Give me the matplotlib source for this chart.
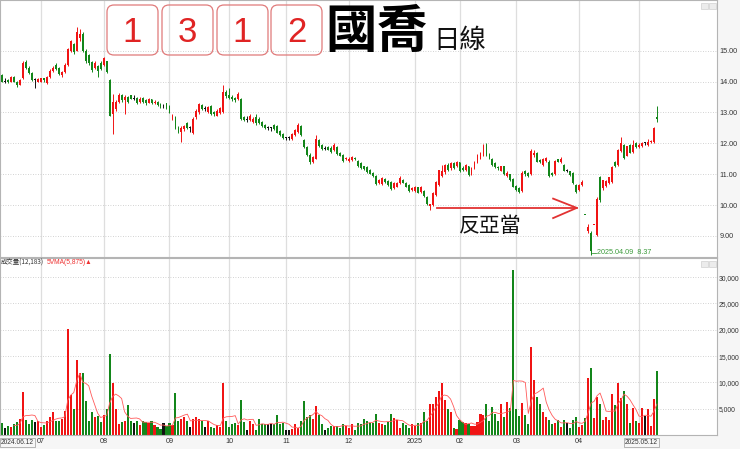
import numpy as np
import pandas as pd
import matplotlib
matplotlib.use('Agg')
import matplotlib.pyplot as plt
from matplotlib.patches import FancyBboxPatch, Rectangle

CJK = ['Noto Sans CJK TC', 'DejaVu Sans']
SANS = 'Liberation Sans'

# ---------------- data ----------------
holidays = ['2024-07-24', '2024-07-25', '2024-09-17', '2024-10-02', '2024-10-03',
            '2024-10-10', '2024-10-31', '2025-01-01', '2025-01-23', '2025-01-24',
            '2025-01-27', '2025-01-28', '2025-01-29', '2025-01-30', '2025-01-31',
            '2025-02-28', '2025-04-03', '2025-04-04', '2025-05-01']
dates = pd.bdate_range('2024-06-12', '2025-05-12', freq='C', holidays=holidays)

opens = [14.20, 14.00, 14.05, 14.00, 14.15, 14.00, 13.90, 14.10, 14.62, 14.45,
         14.28, 14.05, 14.00, 14.00, 14.10, 13.95, 14.15, 14.35, 14.55, 14.45,
         14.20, 14.30, 14.55, 15.00, 15.20, 15.00, 15.40, 15.55, 15.00, 14.85,
         14.62, 14.45, 14.50, 14.60, 14.55, 14.65, 14.05, 12.95, 13.10, 13.35,
         13.55, 13.40, 13.50, 13.55, 13.45, 13.48, 13.35, 13.48, 13.40, 13.32,
         13.42, 13.30, 13.35, 13.28, 13.22, 13.30, 13.20, 12.80, 12.85, 12.50,
         12.38, 12.45, 12.65, 12.50, 12.35, 12.85, 13.00, 13.25, 13.10, 13.00,
         13.20, 13.00, 12.90, 12.98, 13.00, 13.65, 13.55, 13.50, 13.48, 13.42,
         13.45, 12.85, 12.75, 12.75, 12.70, 12.85, 12.80, 12.70, 12.60, 12.50,
         12.50, 12.60, 12.55, 12.40, 12.30, 12.17, 12.17, 12.15, 12.27, 12.37,
         12.55, 12.10, 11.88, 11.62, 11.40, 11.50, 12.10, 11.95, 11.82, 11.88,
         11.85, 11.78, 11.88, 11.70, 11.62, 11.50, 11.42, 11.45, 11.52, 11.42,
         11.35, 11.25, 11.22, 11.15, 11.05, 10.95, 10.72, 10.68, 10.85, 10.78,
         10.75, 10.55, 10.60, 10.70, 10.82, 10.72, 10.65, 10.50, 10.45, 10.58,
         10.42, 10.45, 10.26, 9.98, 10.00, 10.32, 10.65, 10.95, 11.07, 11.30,
         11.20, 11.35, 11.25, 11.38, 11.20, 11.15, 11.25, 11.00, 11.20, 11.36,
         11.50, 11.60, 11.95, 11.65, 11.50, 11.35, 11.20, 11.12, 11.25, 10.95,
         11.00, 10.85, 10.62, 10.55, 10.45, 11.10, 11.05, 11.00, 11.62, 11.70,
         11.45, 11.30, 11.42, 11.40, 11.05, 11.00, 11.48, 11.38, 11.30, 11.12,
         11.10, 11.05, 10.65, 10.48, 10.65, 9.68, 9.15, 9.10, 9.35, 9.03,
         10.90, 10.55, 10.62, 10.70, 10.75, 11.40, 11.30, 11.75, 11.95, 11.60,
         11.95, 11.72, 12.00, 11.88, 11.90, 12.00, 11.95, 12.03, 12.05, 12.85]

highs = [14.25, 14.10, 14.08, 14.18, 14.18, 14.02, 14.08, 14.65, 14.70, 14.50,
         14.30, 14.10, 14.10, 14.12, 14.12, 14.18, 14.40, 14.50, 14.60, 14.48,
         14.35, 14.60, 15.10, 15.35, 15.25, 15.78, 15.70, 15.60, 15.05, 14.90,
         14.65, 14.65, 14.55, 14.65, 14.80, 14.68, 14.08, 13.60, 13.40, 13.62,
         13.60, 13.55, 13.52, 13.58, 13.58, 13.50, 13.50, 13.50, 13.45, 13.48,
         13.45, 13.40, 13.38, 13.30, 13.28, 13.32, 13.25, 12.95, 12.88, 12.55,
         12.55, 12.60, 12.68, 12.55, 12.85, 13.10, 13.30, 13.28, 13.20, 13.22,
         13.25, 13.05, 13.10, 13.18, 13.90, 13.72, 13.80, 13.55, 13.50, 13.65,
         13.48, 12.88, 12.90, 12.95, 12.85, 12.95, 12.85, 12.72, 12.62, 12.55,
         12.52, 12.62, 12.58, 12.42, 12.33, 12.22, 12.25, 12.32, 12.48, 12.65,
         12.58, 12.15, 11.92, 11.68, 11.58, 12.27, 12.15, 11.98, 11.90, 11.92,
         11.90, 12.00, 11.90, 11.72, 11.65, 11.55, 11.55, 11.60, 11.55, 11.45,
         11.38, 11.28, 11.25, 11.18, 11.08, 10.98, 10.85, 10.90, 10.88, 10.80,
         10.78, 10.75, 10.75, 10.95, 10.85, 10.75, 10.68, 10.58, 10.62, 10.60,
         10.62, 10.48, 10.30, 10.05, 10.42, 10.78, 11.15, 11.30, 11.32, 11.35,
         11.38, 11.38, 11.42, 11.40, 11.25, 11.32, 11.28, 11.22, 11.42, 11.65,
         11.72, 11.98, 12.00, 11.68, 11.52, 11.38, 11.28, 11.28, 11.28, 11.10,
         11.02, 10.88, 10.65, 10.58, 11.10, 11.15, 11.08, 11.82, 11.80, 11.72,
         11.50, 11.52, 11.55, 11.45, 11.08, 11.45, 11.50, 11.55, 11.32, 11.18,
         11.12, 11.08, 10.68, 10.68, 10.80, 9.68, 9.40, 9.15, 9.35, 10.25,
         10.95, 10.82, 10.80, 10.92, 11.25, 11.42, 11.82, 12.20, 11.98, 11.92,
         11.98, 12.10, 12.05, 12.00, 12.05, 12.05, 12.15, 12.10, 12.52, 13.20]

lows = [13.97, 13.95, 13.95, 13.98, 13.98, 13.82, 13.88, 14.08, 14.40, 14.25,
        14.02, 13.80, 13.98, 13.98, 14.00, 13.92, 14.12, 14.30, 14.38, 14.20,
        14.15, 14.28, 14.50, 14.95, 14.90, 14.98, 15.30, 14.95, 14.60, 14.55,
        14.30, 14.40, 14.15, 14.38, 14.50, 14.28, 12.87, 12.30, 13.05, 13.30,
        13.35, 12.95, 13.30, 13.42, 13.40, 13.28, 13.30, 13.30, 13.25, 13.30,
        13.28, 13.28, 13.20, 13.15, 13.15, 13.10, 12.98, 12.75, 12.45, 12.35,
        12.05, 12.40, 12.45, 12.38, 12.30, 12.80, 12.95, 13.08, 13.05, 12.98,
        12.92, 12.90, 12.88, 12.95, 12.98, 13.48, 13.42, 13.38, 13.35, 13.40,
        12.75, 12.72, 12.70, 12.72, 12.65, 12.60, 12.62, 12.52, 12.48, 12.42,
        12.40, 12.42, 12.33, 12.25, 12.15, 12.10, 12.12, 12.12, 12.25, 12.35,
        12.25, 11.85, 11.60, 11.33, 11.36, 11.48, 11.88, 11.80, 11.78, 11.78,
        11.70, 11.75, 11.62, 11.58, 11.40, 11.45, 11.40, 11.42, 11.45, 11.22,
        11.18, 11.15, 11.05, 11.00, 10.92, 10.65, 10.68, 10.65, 10.72, 10.62,
        10.50, 10.52, 10.58, 10.68, 10.70, 10.58, 10.43, 10.45, 10.42, 10.38,
        10.40, 10.26, 10.00, 9.84, 9.98, 10.30, 10.62, 10.92, 11.02, 11.12,
        11.15, 11.18, 11.22, 11.08, 11.12, 11.12, 10.95, 10.98, 11.18, 11.35,
        11.48, 11.58, 11.60, 11.48, 11.28, 11.20, 11.15, 11.10, 10.98, 10.92,
        10.78, 10.58, 10.45, 10.38, 10.42, 10.95, 10.92, 10.98, 11.55, 11.38,
        11.35, 11.28, 11.40, 10.92, 10.95, 10.98, 11.38, 11.35, 11.10, 11.08,
        10.95, 10.68, 10.38, 10.45, 10.62, 9.68, 9.10, 8.37, 9.35, 9.00,
        10.10, 10.50, 10.58, 10.68, 10.72, 11.22, 11.28, 11.72, 11.50, 11.58,
        11.68, 11.70, 11.85, 11.85, 11.88, 11.95, 11.92, 12.00, 12.02, 12.70]

closes = [14.00, 14.00, 13.98, 14.15, 14.00, 13.88, 14.05, 14.60, 14.45, 14.28,
          14.05, 14.05, 14.08, 14.10, 14.05, 14.15, 14.35, 14.45, 14.40, 14.25,
          14.30, 14.55, 15.05, 15.30, 14.95, 15.60, 15.55, 15.00, 14.65, 14.60,
          14.37, 14.60, 14.35, 14.42, 14.75, 14.30, 12.87, 13.35, 13.35, 13.55,
          13.40, 13.50, 13.35, 13.45, 13.45, 13.30, 13.45, 13.35, 13.30, 13.42,
          13.32, 13.35, 13.25, 13.22, 13.22, 13.15, 13.00, 12.90, 12.50, 12.38,
          12.50, 12.55, 12.50, 12.50, 12.80, 13.05, 13.27, 13.10, 13.10, 13.18,
          12.95, 12.95, 13.05, 13.15, 13.65, 13.52, 13.48, 13.42, 13.40, 13.60,
          12.78, 12.75, 12.75, 12.90, 12.80, 12.65, 12.65, 12.55, 12.50, 12.50,
          12.50, 12.45, 12.35, 12.27, 12.17, 12.17, 12.17, 12.30, 12.43, 12.60,
          12.27, 11.88, 11.62, 11.38, 11.55, 12.15, 11.90, 11.82, 11.82, 11.80,
          11.72, 11.95, 11.65, 11.60, 11.42, 11.50, 11.50, 11.55, 11.50, 11.25,
          11.20, 11.18, 11.07, 11.02, 10.95, 10.68, 10.82, 10.88, 10.75, 10.65,
          10.52, 10.70, 10.72, 10.87, 10.72, 10.60, 10.45, 10.55, 10.60, 10.40,
          10.60, 10.28, 10.02, 10.02, 10.40, 10.75, 11.13, 11.10, 11.30, 11.15,
          11.35, 11.20, 11.40, 11.10, 11.15, 11.30, 10.97, 11.20, 11.40, 11.62,
          11.68, 11.92, 11.62, 11.50, 11.30, 11.22, 11.20, 11.25, 11.00, 11.05,
          10.80, 10.60, 10.48, 10.42, 11.05, 11.00, 10.95, 11.75, 11.70, 11.40,
          11.38, 11.50, 11.52, 10.95, 10.98, 11.42, 11.40, 11.50, 11.12, 11.12,
          10.98, 10.70, 10.42, 10.65, 10.75, 9.68, 9.30, 8.50, 9.35, 10.20,
          10.15, 10.80, 10.78, 10.90, 11.23, 11.28, 11.80, 12.00, 11.53, 11.90,
          11.70, 11.95, 11.88, 11.95, 12.00, 12.00, 12.05, 12.06, 12.50, 12.78]

volumes = [2300, 1300, 1800, 1600, 2000, 2500, 3000, 8200, 2800, 2100,
           2900, 2500, 2750, 1500, 1900, 2750, 3500, 4300, 2700, 2700,
           3000, 4600, 20100, 7600, 5000, 14200, 11700, 11700, 6500, 2700,
           4300, 3400, 3700, 2500, 3800, 5000, 15400, 9800, 4900, 2100,
           2500, 2750, 5700, 2700, 2300, 2700, 1900, 2700, 2500, 2300,
           2700, 1900, 1500, 1050, 2300, 1800, 2200, 1900, 8000, 2700,
           3000, 3400, 2700, 1600, 3000, 3400, 3000, 2700, 1600, 2700,
           1500, 1300, 1900, 1500, 9900, 2700, 1500, 2100, 2200, 1900,
           6700, 2500, 1000, 2700, 2000, 1000, 3000, 2000, 2100, 2000,
           2000, 2000, 3800, 2100, 2300, 1000, 1000, 1100, 2000, 1400,
           2700, 6500, 3400, 3800, 3000, 5600, 3800, 2100, 1000, 1400,
           1800, 1800, 1800, 1400, 2100, 1800, 1400, 2000, 1000, 2200,
           2000, 3000, 2600, 2200, 2200, 4000, 2300, 2100, 1900, 2500,
           4000, 3200, 2900, 1300, 2200, 1900, 1300, 2000, 1800, 2200,
           2300, 4400, 2700, 5800, 5800, 7300, 8400, 9800, 6700, 5000,
           4300, 1400, 1100, 2900, 2500, 2200, 2100, 1700, 1800, 2500,
           3900, 3800, 5800, 2700, 5300, 3900, 2700, 5800, 3400, 6200,
           5100, 31400, 5000, 3700, 6000, 3800, 2000, 16800, 10400, 7300,
           5800, 4300, 3400, 2900, 2100, 2200, 2800, 1500, 2900, 2300,
           1400, 2800, 3400, 1600, 1900, 3300, 10800, 12800, 3200, 7300,
           5800, 2900, 3500, 2900, 7700, 5700, 9900, 7100, 8400, 5800,
           2300, 5100, 2600, 2200, 5200, 3700, 4900, 1800, 6800, 12183]

price_ticks = [9, 10, 11, 12, 13, 14, 15]
volume_ticks = [5000, 10000, 15000, 20000, 25000, 30000]
first_label = '2024.06.12'
last_label = '2025.05.12'
title_digits = ['1', '3', '1', '2']
title_name = '國喬'
title_suffix = '日線'
arrow_text = '反亞當'
low_label = '2025.04.09  8.37'
vol_label = '成交量(12,183)'
ma_label = '5VMA(5,875)▲'

# ---------------- derived ----------------
n = len(closes)
x = np.arange(n)
o = np.array(opens); h = np.array(highs); l = np.array(lows); c = np.array(closes)
v = np.array(volumes, dtype=float)

RED, GREEN, BLACK = '#f01414', '#13861a', '#111111'
cols = []
for i in range(n):
    if c[i] > o[i]:
        cols.append(RED)
    elif c[i] < o[i]:
        cols.append(GREEN)
    else:
        prev = c[i - 1] if i > 0 else c[i]
        cols.append(RED if c[i] > prev else (GREEN if c[i] < prev else BLACK))

month_idx, month_lab = [], []
dl = list(dates)[:n]
for i in range(1, len(dl)):
    if dl[i].month != dl[i - 1].month:
        month_idx.append(i)
        month_lab.append('2025' if dl[i].month == 1 else '%02d' % dl[i].month)

# ---------------- figure ----------------
W, H = 740, 449
fig = plt.figure(figsize=(W / 100, H / 100), dpi=100, facecolor='#f6f6f6')


def fa(left, top, right, bottom):
    return [left / W, 1 - bottom / H, (right - left) / W, (bottom - top) / H]


axp = fig.add_axes(fa(0, 0, 717, 257))
axv = fig.add_axes(fa(0, 258, 717, 435))
XL = (-0.67, 239.1)

for ax in (axp, axv):
    ax.set_facecolor('white')
    ax.set_xlim(*XL)
    for s in ax.spines.values():
        s.set_color('#b4b4b4')
        s.set_linewidth(0.8)
    for mi in month_idx:
        ax.axvline(mi, color='#dedede', lw=0.9, zorder=0)

# price panel
axp.set_ylim(8.32, 16.64)
for p in price_ticks:
    axp.axhline(p, color='#c4c4c4', lw=0.6, ls=(0, (1, 2)), zorder=0)
body_bottom = np.minimum(o, c)
body_h = np.maximum(np.abs(c - o), 0.03)
axp.vlines(x, l, h, colors=cols, lw=0.7, zorder=2)
axp.bar(x, body_h, bottom=body_bottom, width=0.62, color=cols, lw=0, zorder=3)
axp.yaxis.tick_right()
axp.set_yticks(price_ticks)
axp.set_yticklabels(['%.2f' % p for p in price_ticks], family=SANS)
axp.tick_params(axis='y', length=0, pad=2.0, labelsize=5.2, labelcolor='#333333')
axp.set_xticks([])

# arrow annotation
ay = 9.91
axp.plot([145.5, 192.2], [ay, ay], color='#e23232', lw=1.3, zorder=4)
axp.plot([184.3, 192.2, 184.3], [ay + 0.30, ay, ay - 0.33], color='#e23232', lw=1.3, zorder=4)
axp.text(163.2, 9.32, arrow_text, fontsize=15, family=CJK, ha='center', va='center', color='#111111')

# low label
axp.plot([197.4, 198.7], [8.45, 8.45], color='#3a9a3a', lw=0.6)
axp.text(198.9, 8.45, low_label, fontsize=5.2, family=SANS, color='#3a9a3a', va='center', ha='left')

# volume panel
axv.set_ylim(0, 33650)
for t in volume_ticks:
    axv.axhline(t, color='#c4c4c4', lw=0.6, ls=(0, (1, 2)), zorder=0)
axv.bar(x, v, width=0.7, color=cols, lw=0, zorder=2)
ma = pd.Series(v).rolling(5).mean()
axv.plot(x, ma, color='#ff5a5a', lw=0.6, zorder=3)
axv.yaxis.tick_right()
axv.set_yticks(volume_ticks)
axv.set_yticklabels(['{:,}'.format(t) for t in volume_ticks], family=SANS)
axv.tick_params(axis='y', length=0, pad=1.0, labelsize=4.9, labelcolor='#333333')
show_idx = [m for m in month_idx if m < n - 8]
axv.set_xticks(show_idx)
axv.set_xticklabels(month_lab[:len(show_idx)], family=SANS)
axv.tick_params(axis='x', length=0, pad=2.4, labelsize=5.2, labelcolor='#333333')
bb = dict(boxstyle='square,pad=0.15', fc='#f6f6f6', ec='#9a9a9a', lw=0.5)
axv.text(XL[0] + 0.2, -0.042, first_label, transform=axv.get_xaxis_transform(), family=SANS,
         fontsize=4.8, ha='left', va='center', color='#333333', bbox=bb)
axv.text(n - 1 + 0.4, -0.042, last_label, transform=axv.get_xaxis_transform(), family=SANS,
         fontsize=4.8, ha='right', va='center', color='#333333', bbox=bb)

# overlay for title & legend
ov = fig.add_axes([0, 0, 1, 1], zorder=5)
ov.set_xlim(0, W)
ov.set_ylim(H, 0)
ov.axis('off')
ov.patch.set_alpha(0)
boxes = [(107, 158), (162, 213), (217, 268), (271, 322)]
for (bl, br), d in zip(boxes, title_digits):
    ov.add_patch(FancyBboxPatch((bl, 5), br - bl, 50, boxstyle='round,pad=0,rounding_size=7',
                                ec='#e07a7a', fc='none', lw=0.9))
    ov.text((bl + br) / 2, 32, d, fontsize=25, color='#e02424', ha='center', va='center',
            family=SANS)
ov.text(377, 31, title_name, fontsize=37, weight='bold', family=CJK, ha='center', va='center',
        color='#000000')
ov.text(460, 41, title_suffix, fontsize=19, family=CJK, ha='center', va='center', color='#111111')
ov.text(1, 263, vol_label, fontsize=4.6, family=CJK, color='#333333', va='center', ha='left')
ov.text(47, 263, ma_label, fontsize=4.8, family=[SANS, 'DejaVu Sans'], color='#ee3333',
        va='center', ha='left')
for (rx, ry) in [(701, 3), (709, 3), (701, 261), (709, 261)]:
    ov.add_patch(Rectangle((rx, ry), 7, 6, fc='#ececec', ec='#d0d0d0', lw=0.5))

fig.savefig('out.png', dpi=100, facecolor=fig.get_facecolor())
